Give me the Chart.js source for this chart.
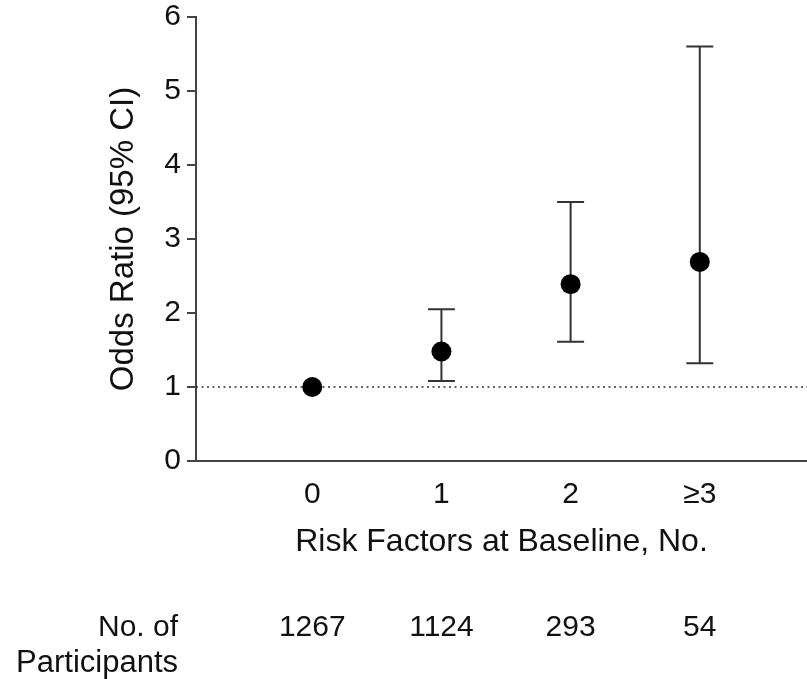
<!DOCTYPE html>
<html>
<head>
<meta charset="utf-8">
<script src="https://cdn.jsdelivr.net/npm/chart.js@4/dist/chart.umd.min.js"></script>
<style>
	body { margin: 0; background: #fff; }
	#wrap { width: 807px; height: 679px; }
</style>
</head>
<body>
<div id="wrap"><canvas id="odds"></canvas></div>
<script>
//Data
var categories = ['0', '1', '2', '\u22653'];
var oddsRatio = [1.0, 1.48, 2.39, 2.69];
var ciLower = [1.0, 1.08, 1.61, 1.32];
var ciUpper = [1.0, 2.05, 3.50, 5.60];
var participants = [1267, 1124, 293, 54];
var yTicks = [0, 1, 2, 3, 4, 5, 6];

var FONT = "'Liberation Sans', Arial, Helvetica, sans-serif";
var INK = '#333333';

var points = [];
for (var i = 0; i < categories.length; i++) {
	points.push({x: i, y: oddsRatio[i]});
}

//Reference line at OR = 1 and the CI whiskers
var errorBars = {
	id: 'errorBars',
	beforeDatasetsDraw: function(chart) {
		var ctx = chart.ctx;
		var xs = chart.scales.x;
		var ys = chart.scales.y;
		var area = chart.chartArea;
		ctx.save();
		ctx.strokeStyle = INK;
		ctx.lineWidth = 1.5;
		ctx.setLineDash([2, 3.5]);
		ctx.beginPath();
		ctx.moveTo(area.left, ys.getPixelForValue(1));
		ctx.lineTo(area.right, ys.getPixelForValue(1));
		ctx.stroke();
		ctx.setLineDash([]);
		ctx.lineWidth = 2;
		for (var i = 0; i < categories.length; i++) {
			if (ciLower[i] === ciUpper[i]) continue;
			var px = xs.getPixelForValue(i);
			var lo = ys.getPixelForValue(ciLower[i]);
			var hi = ys.getPixelForValue(ciUpper[i]);
			ctx.beginPath();
			ctx.moveTo(px, lo);
			ctx.lineTo(px, hi);
			ctx.moveTo(px - 13.5, lo);
			ctx.lineTo(px + 13.5, lo);
			ctx.moveTo(px - 13.5, hi);
			ctx.lineTo(px + 13.5, hi);
			ctx.stroke();
		}
		ctx.restore();
	}
};

//Participant counts under the axis
var countRow = {
	id: 'countRow',
	afterDraw: function(chart) {
		var ctx = chart.ctx;
		var xs = chart.scales.x;
		ctx.save();
		ctx.fillStyle = '#111';
		ctx.font = '30px ' + FONT;
		ctx.textBaseline = 'middle';
		ctx.textAlign = 'right';
		ctx.fillText('No. of', 178, 628);
		ctx.font = '31px ' + FONT;
		ctx.fillText('Participants', 178, 663);
		ctx.font = '30px ' + FONT;
		ctx.textAlign = 'center';
		for (var i = 0; i < participants.length; i++) {
			ctx.fillText(String(participants[i]), xs.getPixelForValue(i), 628);
		}
		ctx.restore();
	}
};

var oddschart = new Chart(document.getElementById('odds'), {
	type: 'scatter',
	data: {
		datasets: [{
			data: points,
			pointRadius: 10,
			pointHoverRadius: 10,
			pointBackgroundColor: '#000',
			pointBorderColor: '#000',
			pointBorderWidth: 0,
			clip: false
		}]
	},
	options: {
		responsive: true,
		maintainAspectRatio: false,
		animation: false,
		layout: {
			autoPadding: false,
			padding: {top: 0, right: 0, bottom: 118, left: 0}
		},
		scales: {
			x: {
				type: 'linear',
				min: -0.9,
				max: 3.83,
				afterBuildTicks: function(scale) {
					scale.ticks = categories.map(function(c, i) { return {value: i}; });
				},
				afterFit: function(scale) {
					scale.height = 100;
					scale.paddingLeft = 0;
					scale.paddingRight = 0;
				},
				grid: {display: false, drawTicks: false},
				border: {display: true, color: '#444', width: 2},
				ticks: {
					padding: 16,
					color: '#111',
					font: {family: FONT, size: 30},
					callback: function(v) { return categories[v]; }
				},
				title: {
					display: true,
					text: 'Risk Factors at Baseline, No.',
					color: '#111',
					font: {family: FONT, size: 32},
					padding: {top: 6, bottom: 0}
				}
			},
			y: {
				min: 0,
				max: 6,
				afterBuildTicks: function(scale) {
					scale.ticks = yTicks.map(function(v) { return {value: v}; });
				},
				afterFit: function(scale) {
					scale.width = 196;
					scale.paddingTop = 17;
					scale.paddingBottom = 0;
				},
				grid: {drawOnChartArea: false, drawTicks: true, tickLength: 9, color: '#444', lineWidth: 2},
				border: {display: true, color: '#444', width: 2},
				ticks: {
					padding: 6,
					color: '#111',
					font: {family: FONT, size: 30}
				},
				title: {
					display: true,
					text: 'Odds Ratio (95% CI)',
					color: '#111',
					font: {family: FONT, size: 33},
					padding: {top: 104, bottom: 0}
				}
			}
		},
		plugins: {
			legend: {display: false},
			tooltip: {enabled: false}
		}
	},
	plugins: [errorBars, countRow]
});
</script>
</body>
</html>
